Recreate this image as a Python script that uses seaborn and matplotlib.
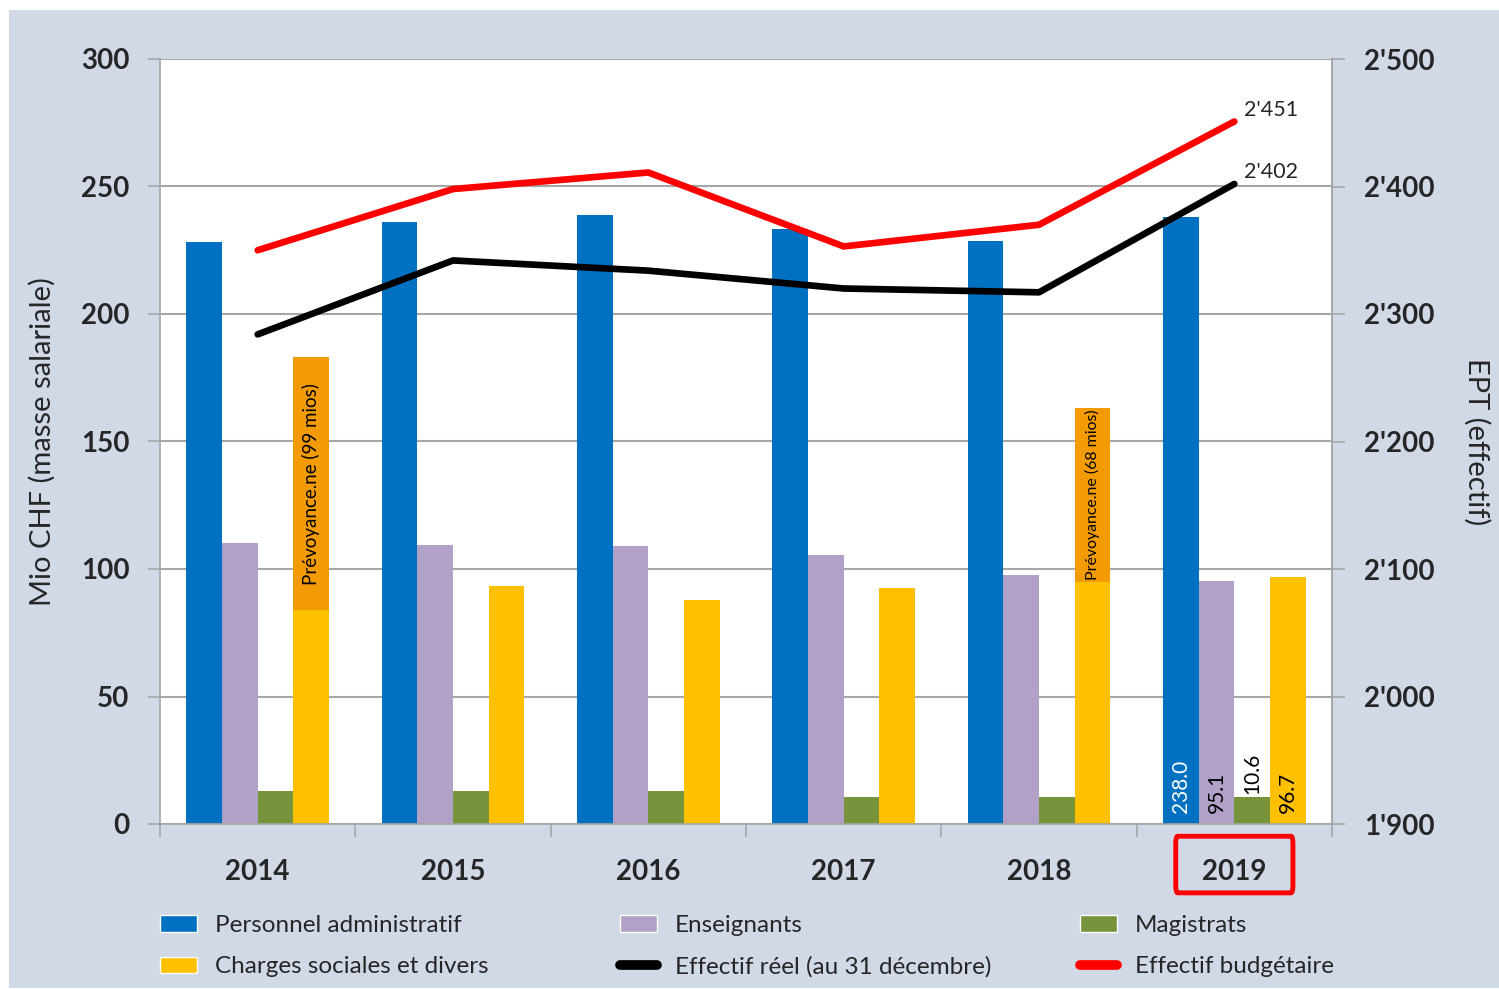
import numpy as np
import pandas as pd
import seaborn as sns
import matplotlib.pyplot as plt
from matplotlib.patches import Patch, Rectangle, FancyBboxPatch
from matplotlib.lines import Line2D
from matplotlib.ticker import FuncFormatter

# data
years = ["2014", "2015", "2016", "2017", "2018", "2019"]
personnel_admin = [228.2, 236.1, 238.8, 233.3, 228.6, 238.0]
enseignants = [110.2, 109.4, 109.0, 105.5, 97.6, 95.1]
magistrats = [12.9, 13.0, 13.0, 10.6, 10.6, 10.6]
charges_sociales = [84.0, 93.3, 87.8, 92.5, 95.0, 96.7]
prevoyance = [99, 0, 0, 0, 68, 0]
effectif_reel = [2284, 2342, 2334, 2320, 2317, 2402]
effectif_budget = [2350, 2398, 2411, 2353, 2370, 2451]

series_names = ["Personnel administratif", "Enseignants", "Magistrats", "Charges sociales et divers"]
colors = ["#0070C0", "#B1A0C7", "#77933C", "#FFC000"]
orange = "#F29B05"
bg = "#D1D9E7"
grid_col = "#A6A6A6"

df = pd.DataFrame({
    "year": years * 4,
    "serie": np.repeat(series_names, len(years)),
    "value": personnel_admin + enseignants + magistrats + charges_sociales,
})

sns.set_style("white")
plt.rcParams["font.family"] = ["Lato", "DejaVu Sans"]

fig = plt.figure(figsize=(14.99, 9.89), dpi=100)
fig.patch.set_facecolor("white")
fig.patches.append(Rectangle((9 / 1499, 1 / 989), 1 - 9 / 1499, 978 / 989,
                             transform=fig.transFigure, facecolor=bg, edgecolor="none", zorder=-5))
ax = fig.add_axes([160 / 1499, 1 - 824 / 989, (1332 - 160) / 1499, (824 - 59) / 989])
ax.set_facecolor("white")

sns.barplot(data=df, x="year", y="value", hue="serie", hue_order=series_names,
            palette=colors, saturation=1, width=0.73, gap=0, linewidth=0,
            legend=False, ax=ax, zorder=2)

# Prévoyance.ne stacked on charges sociales
yellow_bars = ax.containers[3]
for i, p in enumerate(yellow_bars.patches):
    if prevoyance[i] > 0:
        xc = p.get_x() + p.get_width() / 2
        ax.bar(xc, prevoyance[i], bottom=charges_sociales[i], width=p.get_width(),
               color=orange, linewidth=0, zorder=2)
        ax.text(xc, charges_sociales[i] + prevoyance[i] / 2,
                f"Prévoyance.ne ({prevoyance[i]} mios)", rotation=90,
                ha="center", va="center", fontsize=13.5 if prevoyance[i] > 80 else 11.4,
                color="black", zorder=3)

# 2019 value labels
last = len(years) - 1
vals_2019 = [personnel_admin[last], enseignants[last], magistrats[last], charges_sociales[last]]
for k, cont in enumerate(ax.containers[:4]):
    p = cont.patches[last]
    xc = p.get_x() + p.get_width() / 2
    if k == 2:
        y0, col = vals_2019[k] + 1.2, "black"
    else:
        y0, col = 4.5, ("white" if k == 0 else "black")
    ax.text(xc, y0, f"{vals_2019[k]:.1f}", rotation=90, ha="center", va="bottom",
            fontsize=15, color=col, zorder=3)

ax.set_ylim(0, 300)
ax.set_xlim(-0.5, len(years) - 0.5)
ax.set_yticks(np.arange(0, 301, 50))
ax.yaxis.grid(True, color=grid_col, linewidth=1.5, zorder=0)
ax.set_axisbelow(True)
ax.set_xlabel("")
ax.set_ylabel("Mio CHF (masse salariale)", fontsize=21, labelpad=18)
ax.tick_params(axis="y", which="major", length=9, width=1.2, color=grid_col,
               labelsize=20, pad=13, direction="out", left=True)
ax.tick_params(axis="x", which="major", length=0, labelsize=20, pad=25)
ax.set_xticks(np.arange(-0.5, len(years), 1), minor=True)
ax.tick_params(axis="x", which="minor", length=9, width=1.2, color=grid_col, direction="out", bottom=True)
for lab in ax.get_xticklabels() + ax.get_yticklabels():
    lab.set_fontweight("bold")
for side in ["left", "bottom", "right", "top"]:
    ax.spines[side].set_color(grid_col)
    ax.spines[side].set_linewidth(1.2)
ax.spines["top"].set_visible(False)

# effectifs on secondary axis
ax2 = ax.twinx()
x_idx = np.arange(len(years))
sns.lineplot(x=x_idx, y=effectif_budget, color="#FF0000", linewidth=4.8, ax=ax2,
             solid_capstyle="round", solid_joinstyle="round")
sns.lineplot(x=x_idx, y=effectif_reel, color="black", linewidth=4.8, ax=ax2,
             solid_capstyle="round", solid_joinstyle="round")
ax2.set_ylim(1900, 2500)
ax2.set_xlim(-0.5, len(years) - 0.5)
ax2.set_yticks(np.arange(1900, 2501, 100))
ax2.yaxis.set_major_formatter(FuncFormatter(lambda v, _: f"{int(v) // 1000}'{int(v) % 1000:03d}"))
ax2.tick_params(axis="y", length=9, width=1.2, color=grid_col, labelsize=20, pad=14,
                direction="out", right=True)
for lab in ax2.get_yticklabels():
    lab.set_fontweight("bold")
ax2.set_ylabel("EPT (effectif)", fontsize=21, rotation=270, labelpad=40)
for side in ["left", "bottom", "top"]:
    ax2.spines[side].set_visible(False)
ax2.spines["right"].set_color(grid_col)
ax2.spines["right"].set_linewidth(1.2)

for vals in (effectif_budget, effectif_reel):
    v = vals[-1]
    ax2.annotate(f"{v // 1000}'{v % 1000:03d}", (x_idx[-1], v), xytext=(7, 8.5),
                 textcoords="offset points", ha="left", va="center", fontsize=15.5)

# highlight 2019
ax.add_patch(FancyBboxPatch((last - 0.3, -0.09), 0.6, 0.074, boxstyle="round,pad=0,rounding_size=0.01",
                            transform=ax.get_xaxis_transform(), clip_on=False,
                            facecolor="none", edgecolor="#FF0000", linewidth=3.5, zorder=5))

# legend: three columns placed like the original
columns = [
    ([Patch(facecolor=colors[0], label=series_names[0]),
      Patch(facecolor=colors[3], label=series_names[3])], 160),
    ([Patch(facecolor=colors[1], label=series_names[1]),
      Line2D([], [], color="black", linewidth=7, solid_capstyle="round",
             label="Effectif réel (au 31 décembre)")], 620),
    ([Patch(facecolor=colors[2], label=series_names[2]),
      Line2D([], [], color="#FF0000", linewidth=7, solid_capstyle="round",
             label="Effectif budgétaire")], 1080),
]
for hs, x0 in columns:
    fig.legend(handles=hs, ncol=1, loc="upper left",
               bbox_to_anchor=(x0 / 1499, 1 - 915 / 989),
               frameon=False, fontsize=17.5, handlelength=1.52, handleheight=0.68,
               handletextpad=0.74, labelspacing=0.84, borderaxespad=0, borderpad=0)

fig.savefig("out.png", dpi=100, facecolor=fig.get_facecolor())
